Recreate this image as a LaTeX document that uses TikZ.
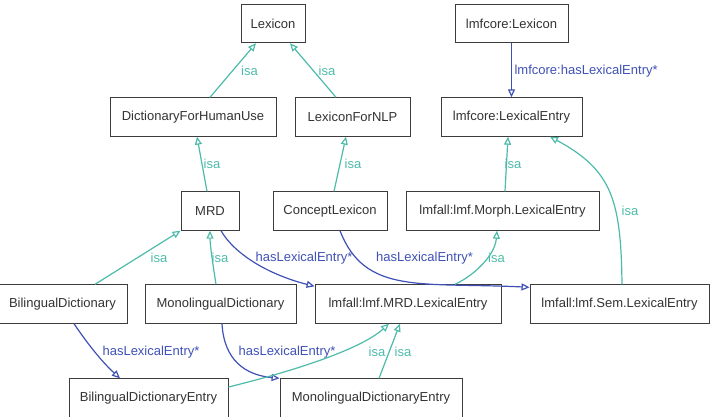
\documentclass[tikz,border=0pt]{standalone}
\usepackage{fontspec}
\setmainfont{Liberation Sans}
\usepackage{xcolor}
\usetikzlibrary{arrows.meta, positioning}

\definecolor{isacol}{RGB}{77,187,170}
\definecolor{relcol}{RGB}{63,81,181}
\definecolor{boxline}{RGB}{60,60,60}
\definecolor{boxtext}{RGB}{51,51,51}

\begin{document}
\begin{tikzpicture}[x=1pt, y=-1pt,
    font=\fontsize{13}{15}\selectfont,
    cls/.style={draw=boxline, line width=0.9pt, fill=white, text=boxtext,
        minimum height=38.5pt, inner xsep=6pt, inner ysep=0pt},
    isa/.style={isacol, line width=1.2pt, -{Triangle[open, length=8pt, width=7pt]}},
    rel/.style={relcol, line width=1.2pt, -{Triangle[open, length=8pt, width=7pt]}},
    lbl/.style={inner sep=0pt, text=#1},
    lbl/.default=isacol]

    % 1. Fix the page size
    \useasboundingbox (0,0) rectangle (713,416);

    % 2. Class boxes, row by row
    \node[cls, minimum width=64pt]  (lexicon)    at (273,23.5)   {Lexicon};
    \node[cls, minimum width=113pt] (lmfLexicon) at (511.5,23.5) {lmfcore:Lexicon};

    \node[cls, minimum width=166pt] (dictHuman) at (193,117)   {DictionaryForHumanUse};
    \node[cls, minimum width=115pt] (lexNLP)    at (352.5,117) {LexiconForNLP};
    \node[cls, minimum width=141pt] (lmfEntry)  at (511.5,117) {lmfcore:LexicalEntry};

    \node[cls, minimum width=58pt]  (mrd)     at (210,211)   {MRD};
    \node[cls, minimum width=114pt] (concept) at (330,211)   {ConceptLexicon};
    \node[cls, minimum width=193pt] (morph)   at (502.5,211) {lmfall:lmf.Morph.LexicalEntry};

    \node[cls, minimum width=129pt] (bili)     at (62.5,304)  {BilingualDictionary};
    \node[cls, minimum width=151pt] (mono)     at (220.5,304) {MonolingualDictionary};
    \node[cls, minimum width=186pt] (mrdEntry) at (408,304)   {lmfall:lmf.MRD.LexicalEntry};
    \node[cls, minimum width=179pt] (sem)      at (619.5,304) {lmfall:lmf.Sem.LexicalEntry};

    \node[cls, minimum width=159pt] (biliEntry) at (148.5,398) {BilingualDictionaryEntry};
    \node[cls, minimum width=182pt] (monoEntry) at (371,398)   {MonolingualDictionaryEntry};

    % 3. isa links to the top classes
    \draw[isa] ([xshift=17pt]dictHuman.north) -- ([xshift=-17pt]lexicon.south)
        node[lbl] at (249.5,71) {isa};
    \draw[isa] ([xshift=-16.5pt]lexNLP.north) -- ([xshift=17pt]lexicon.south)
        node[lbl] at (327,71) {isa};
    \draw[rel] (lmfLexicon.south) -- (lmfEntry.north)
        node[lbl=relcol, anchor=west] at (514,71) {lmfcore:hasLexicalEntry*};

    % 4. isa links of the middle row
    \draw[isa] ([xshift=-3pt]mrd.north) -- ([xshift=4pt]dictHuman.south)
        node[lbl] at (212,164) {isa};
    \draw[isa] ([xshift=4pt]concept.north) -- ([xshift=-6.5pt]lexNLP.south)
        node[lbl] at (353,164) {isa};
    \draw[isa] ([xshift=2.5pt]morph.north) -- ([xshift=-3.5pt]lmfEntry.south)
        node[lbl] at (513,164) {isa};
    \draw[isa] ([xshift=2.5pt]sem.north) .. controls (621,200) and (612,170) .. ([xshift=38.5pt]lmfEntry.south)
        node[lbl] at (630,211) {isa};

    % 5. Dictionaries to MRD
    \draw[isa] ([xshift=32.5pt]bili.north) -- (mrd.south west)
        node[lbl] at (159,258) {isa};
    \draw[isa] ([xshift=-4.5pt]mono.north) .. controls (213,265) and (210,245) .. (mrd.south)
        node[lbl] at (220,258) {isa};

    % 6. hasLexicalEntry links of the middle row
    \draw[rel] ([xshift=11pt]mrd.south) .. controls (235,255) and (270,275) .. ([yshift=-2pt]mrdEntry.north west)
        node[lbl=relcol] at (304,258) {hasLexicalEntry*};
    \draw[rel] ([xshift=10pt]concept.south) .. controls (365,295) and (420,282) .. ([yshift=-3pt]sem.north west)
        node[lbl=relcol] at (424.5,258) {hasLexicalEntry*};
    \draw[isa] ([xshift=47pt]mrdEntry.north) .. controls (475,275) and (495,255) .. ([xshift=-5.5pt]morph.south)
        node[lbl] at (496.5,258) {isa};

    % 7. Entries of the bottom row
    \draw[rel] ([xshift=11.5pt]bili.south) .. controls (85,340) and (100,360) .. ([xshift=-28.5pt]biliEntry.north)
        node[lbl=relcol] at (151,352) {hasLexicalEntry*};
    \draw[rel] ([xshift=1.5pt]mono.south) .. controls (224,360) and (245,375) .. (monoEntry.north west)
        node[lbl=relcol] at (287,352) {hasLexicalEntry*};
    \draw[isa] ([yshift=11pt]biliEntry.east) .. controls (290,372) and (360,350) .. ([xshift=-19pt]mrdEntry.south)
        node[lbl] at (377,352) {isa};
    \draw[isa] ([xshift=8pt]monoEntry.north) -- ([xshift=-8pt]mrdEntry.south)
        node[lbl] at (403,352) {isa};

\end{tikzpicture}
\end{document}
